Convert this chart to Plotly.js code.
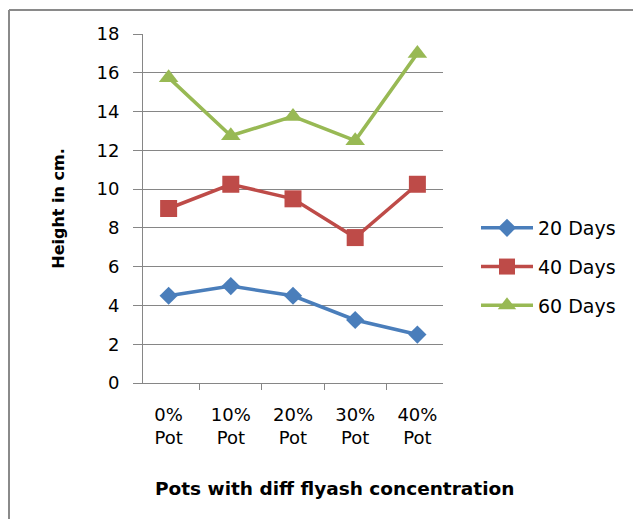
<!DOCTYPE html>
<html><head><meta charset="utf-8">
<script src="https://cdn.plot.ly/plotly-3.0.1.min.js"></script>
<style>html,body{margin:0;padding:0;background:#fff}#chart{width:633px;height:519px}</style>
</head><body><div id="chart"></div>
<script>
const categories = ["0%<br>Pot", "10%<br>Pot", "20%<br>Pot", "30%<br>Pot", "40%<br>Pot"];
const days20 = [4.5, 5.0, 4.5, 3.25, 2.5];
const days40 = [9.0, 10.25, 9.5, 7.5, 10.25];
const days60 = [15.75, 12.75, 13.75, 12.5, 17.0];
const seriesNames = ["20 Days", "40 Days", "60 Days"];

const L = 143, R = 443, T = 34, B = 383, W = 633, H = 519;
const px = x => (x - L) / (R - L);
const py = y => (B - y) / (B - T);
const font = "'DejaVu Sans', Verdana, sans-serif";

function tr(y, name, color, symbol, size, grp) {
  return {x: categories, y: y, name: name, type: 'scatter', mode: 'lines+markers',
    line: {color: color, width: 3.5}, legendgroup: grp,
    marker: {color: color, symbol: symbol, size: size}};
}
const data = [
  tr(days20, seriesNames[0], '#4A7EBB', 'diamond', 14, 'a'),
  tr(days40, seriesNames[1], '#BE4B48', 'square', 17, 'b'),
  tr(days60, seriesNames[2], '#98B954', 'triangle-up', 17, 'c')
];
const layout = {
  width: W, height: H,
  margin: {l: L, r: W - R, t: T, b: H - B},
  paper_bgcolor: '#fff', plot_bgcolor: '#fff',
  font: {family: font, size: 18, color: '#000'},
  showlegend: true,
  legend: {x: px(476), y: py(267), yanchor: 'middle', xanchor: 'left', itemwidth: 52,
    font: {family: font, size: 19, color: '#000'}, tracegroupgap: 11, bgcolor: 'rgba(0,0,0,0)'},
  xaxis: {type: 'category', showgrid: false, showline: true, linecolor: '#868686', linewidth: 1,
    ticks: 'outside', tickson: 'boundaries', ticklen: 6, tickcolor: '#868686',
    ticklabelstandoff: 15,
    tickfont: {family: font, size: 18}, zeroline: false, fixedrange: true},
  yaxis: {range: [0, 18], dtick: 2, showgrid: true, gridcolor: '#868686', gridwidth: 1,
    showline: true, linecolor: '#868686', ticks: 'outside', ticklen: 9, tickcolor: '#868686',
    ticklabelstandoff: 10,
    tickfont: {family: font, size: 18}, zeroline: false,
    title: {text: '<b>Height in cm.</b>', font: {family: font, size: 16}, standoff: 27}},
  annotations: [{text: '<b>Pots with diff flyash concentration</b>', xref: 'paper', yref: 'paper',
    x: px(334), y: py(488), xanchor: 'center', yanchor: 'middle', showarrow: false,
    font: {family: font, size: 18.5, color: '#000'}}],
  shapes: [
    {type: 'line', xref: 'paper', yref: 'paper', x0: px(9), x1: px(640), y0: py(10), y1: py(10), line: {color: '#8a8a8a', width: 2}},
    {type: 'line', xref: 'paper', yref: 'paper', x0: px(9), x1: px(9), y0: py(10), y1: py(530), line: {color: '#8a8a8a', width: 2}}
  ]
};
Plotly.newPlot('chart', data, layout, {displayModeBar: false, staticPlot: true});
</script></body></html>
